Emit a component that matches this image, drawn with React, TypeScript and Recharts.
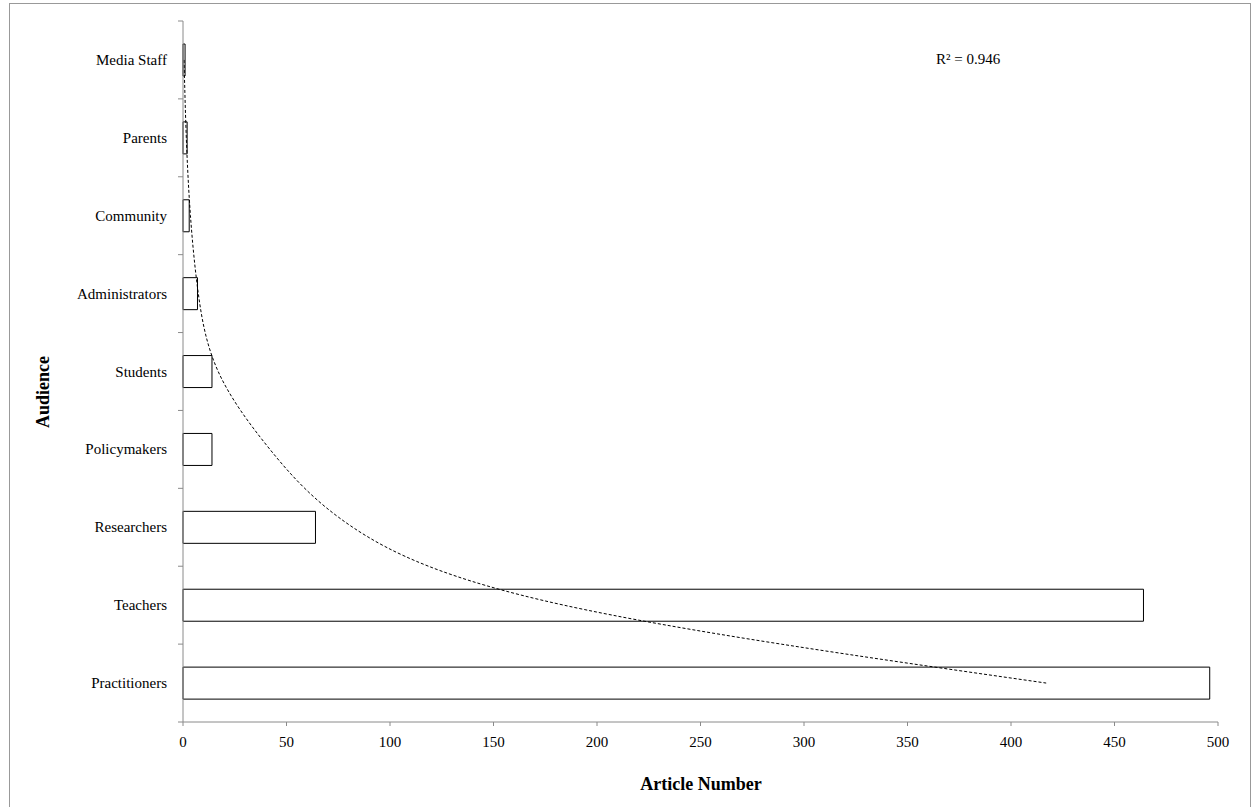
import React from 'react'
import { ComposedChart, Bar, Line, XAxis, YAxis } from 'recharts'

const categories = [
  'Media Staff',
  'Parents',
  'Community',
  'Administrators',
  'Students',
  'Policymakers',
  'Researchers',
  'Teachers',
  'Practitioners',
]
const articleCounts = [1, 2, 3, 7, 14, 14, 64, 464, 496]
// exponential trendline, one value per category
const trendValues = [0.5, 1.6, 3.6, 7.4, 17, 42, 82, 184, 417]
const xTicks = [0, 50, 100, 150, 200, 250, 300, 350, 400, 450, 500]

const FONT = "'Liberation Serif', 'Times New Roman', serif"
const AXIS_GREY = '#8a8a8a'

const data = categories.map((name, i) => ({
  name,
  value: articleCounts[i],
  trend: trendValues[i],
}))

function AudienceTick(props: any) {
  const { x, y, payload, index } = props
  const half = payload && payload.offset ? payload.offset : 39
  const axisX = x + 16
  return (
    <g>
      <text x={x} y={y} dy={5} textAnchor="end" fontFamily={FONT} fontSize={15} fill="#000">
        {payload.value}
      </text>
      <line x1={axisX - 5} x2={axisX} y1={y + half} y2={y + half} stroke={AXIS_GREY} />
      {index === 0 && (
        <line x1={axisX - 5} x2={axisX} y1={y - half} y2={y - half} stroke={AXIS_GREY} />
      )}
    </g>
  )
}

export default function App() {
  return (
    <div
      style={{
        position: 'absolute',
        left: 9,
        top: 3,
        width: 1242,
        height: 806,
        border: '1px solid #999',
        boxSizing: 'border-box',
        background: '#fff',
        fontFamily: FONT,
      }}
    >
      <ComposedChart
        width={1240}
        height={804}
        data={data}
        layout="vertical"
        margin={{ top: 17, right: 32, bottom: 56, left: 13 }}
      >
        <XAxis
          type="number"
          domain={[0, 500]}
          ticks={xTicks}
          tickSize={4}
          tickMargin={10}
          stroke={AXIS_GREY}
          tick={{ fill: '#000', fontSize: 15, fontFamily: FONT }}
          height={30}
        />
        <YAxis
          type="category"
          dataKey="name"
          width={160}
          stroke={AXIS_GREY}
          tickLine={false}
          tickSize={0}
          tickMargin={16}
          tick={<AudienceTick />}
          interval={0}
        />
        <Bar
          dataKey="value"
          fill="#fff"
          stroke="#000"
          strokeWidth={1}
          barSize={32}
          isAnimationActive={false}
        />
        <Line
          dataKey="trend"
          type="natural"
          stroke="#000"
          strokeWidth={1}
          strokeDasharray="3 2"
          dot={false}
          activeDot={false}
          isAnimationActive={false}
        />
      </ComposedChart>
      <div
        style={{
          position: 'absolute',
          left: 926,
          top: 47,
          fontSize: 15,
          color: '#000',
          whiteSpace: 'nowrap',
        }}
      >
        R² = 0.946
      </div>
      <div
        style={{
          position: 'absolute',
          left: 0,
          width: 1382,
          top: 770,
          textAlign: 'center',
          fontSize: 18,
          fontWeight: 'bold',
          color: '#000',
        }}
      >
        Article Number
      </div>
      <div
        style={{
          position: 'absolute',
          left: 33,
          top: 388,
          fontSize: 18,
          fontWeight: 'bold',
          color: '#000',
          whiteSpace: 'nowrap',
          transform: 'translate(-50%, -50%) rotate(-90deg)',
        }}
      >
        Audience
      </div>
    </div>
  )
}
